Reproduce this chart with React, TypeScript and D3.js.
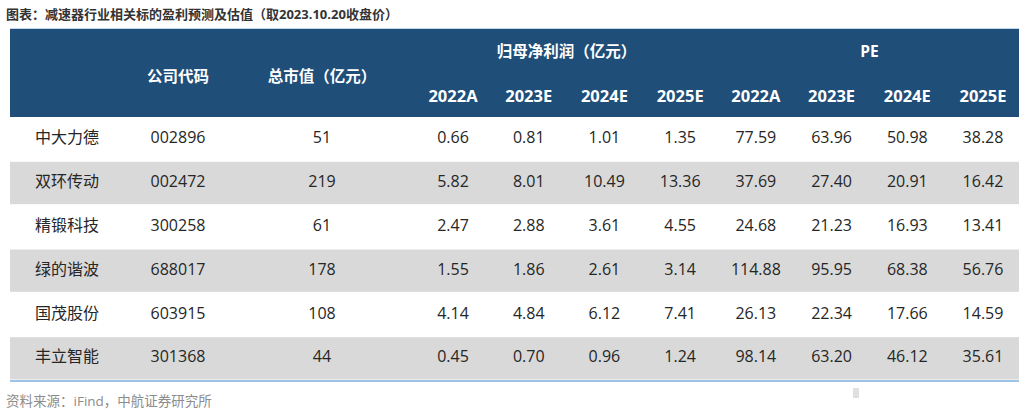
import React from "react";
import * as d3 from "d3";

const title = "图表：减速器行业相关标的盈利预测及估值（取2023.10.20收盘价）";
const source = "资料来源：iFind，中航证券研究所";
const companies = ["中大力德", "双环传动", "精锻科技", "绿的谐波", "国茂股份", "丰立智能"];
const codes = ["002896", "002472", "300258", "688017", "603915", "301368"];
const marketCap = [51, 219, 61, 178, 108, 44];
const years = ["2022A", "2023E", "2024E", "2025E"];
const profit2022A = [0.66, 5.82, 2.47, 1.55, 4.14, 0.45];
const profit2023E = [0.81, 8.01, 2.88, 1.86, 4.84, 0.7];
const profit2024E = [1.01, 10.49, 3.61, 2.61, 6.12, 0.96];
const profit2025E = [1.35, 13.36, 4.55, 3.14, 7.41, 1.24];
const pe2022A = [77.59, 37.69, 24.68, 114.88, 26.13, 98.14];
const pe2023E = [63.96, 27.4, 21.23, 95.95, 22.34, 63.2];
const pe2024E = [50.98, 20.91, 16.93, 68.38, 17.66, 46.12];
const pe2025E = [38.28, 16.42, 13.41, 56.76, 14.59, 35.61];

const FONT = "'Open Sans', 'Noto Sans CJK SC', sans-serif";
const BLUE = "#1F4E79";
const GRAY = "#D9D9D9";
const TEXT = "#262626";

export default function App() {
  const left = 10;
  const right = 1019;
  const headTop = 29;
  const headBottom = 117;
  const tableBottom = 380;

  const y = d3.scaleBand<string>().domain(companies).range([headBottom, tableBottom]);
  const valueCols = [
    ...years.map((yr) => "p" + yr),
    ...years.map((yr) => "e" + yr),
  ];
  const x = d3.scalePoint<string>().domain(valueCols).range([453, 983]);
  const profits = [profit2022A, profit2023E, profit2024E, profit2025E];
  const pes = [pe2022A, pe2023E, pe2024E, pe2025E];

  const nameX = 35;
  const codeX = 178;
  const capX = 322;

  const profitCenter = ((x("p2022A") as number) + (x("p2025E") as number)) / 2;
  const peCenter = ((x("e2022A") as number) + (x("e2025E") as number)) / 2;

  return (
    <svg
      width={1024}
      height={412}
      style={{ position: "absolute", left: 0, top: 0, background: "#fff" }}
      fontFamily={FONT}
    >
      <text x={6} y={19} fontSize={13} fontWeight={700} fill="#333">
        {title}
      </text>
      <rect x={left} y={headTop - 1} width={right - left} height={1} fill="#BDD7EE" />
      <rect x={left} y={headTop} width={right - left} height={headBottom - headTop} fill={BLUE} />
      <g fill="#fff" fontWeight={700} fontSize={15.5} textAnchor="middle">
        <text x={codeX} y={78} dominantBaseline="middle">公司代码</text>
        <text x={capX} y={78} dominantBaseline="middle">总市值（亿元）</text>
        <text x={profitCenter} y={53} dominantBaseline="middle">归母净利润（亿元）</text>
        <text x={peCenter} y={53} dominantBaseline="middle">PE</text>
        {valueCols.map((c) => (
          <text key={c} x={x(c)} y={98} dominantBaseline="middle" fontSize={16.5}>
            {c.slice(1)}
          </text>
        ))}
      </g>
      {companies.map((name, i) => {
        const y0 = y(name) as number;
        const cy = y0 + y.bandwidth() / 2;
        return (
          <g key={name}>
            {i % 2 === 1 && (
              <rect x={left} y={y0 + 1} width={right - left} height={y.bandwidth() - 1.5} fill={GRAY} />
            )}
            <g fontSize={16} fill={TEXT} dominantBaseline="middle">
              <text x={nameX} y={cy}>{name}</text>
              <text x={codeX} y={cy} textAnchor="middle">{codes[i]}</text>
              <text x={capX} y={cy} textAnchor="middle">{marketCap[i]}</text>
              {years.map((yr, j) => (
                <text key={"p" + yr} x={x("p" + yr)} y={cy} textAnchor="middle">
                  {profits[j][i].toFixed(2)}
                </text>
              ))}
              {years.map((yr, j) => (
                <text key={"e" + yr} x={x("e" + yr)} y={cy} textAnchor="middle">
                  {pes[j][i].toFixed(2)}
                </text>
              ))}
            </g>
          </g>
        );
      })}
      <rect x={left} y={tableBottom} width={right - left} height={2} fill="#9DC3E6" />
      <rect x={853} y={388} width={6} height={10} fill="#E0E0E0" />
      <text x={6} y={406} fontSize={13.5} fill="#8C8C8C">
        {source}
      </text>
    </svg>
  );
}
